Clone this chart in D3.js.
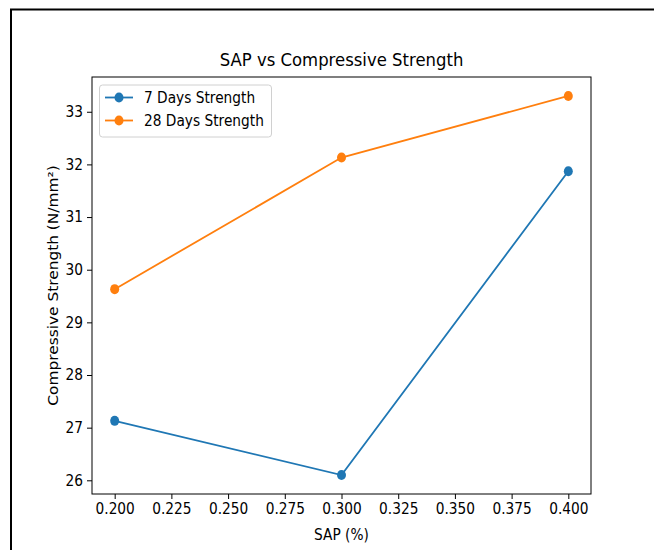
<!DOCTYPE html>
<html>
<head>
<meta charset="utf-8">
<script src="https://cdn.jsdelivr.net/npm/d3@7"></script>
<style>
  html, body { margin: 0; padding: 0; background: #fff; }
  svg { display: block; font-family: "DejaVu Sans", sans-serif; }
</style>
</head>
<body>
<svg id="chart" width="654" height="550"></svg>
<script>
const sap = [0.2, 0.3, 0.4];
const strength7 = [27.13, 26.1, 31.87];
const strength28 = [29.63, 32.13, 33.3];
const seriesNames = ["7 Days Strength", "28 Days Strength"];
const xTicks = [0.2, 0.225, 0.25, 0.275, 0.3, 0.325, 0.35, 0.375, 0.4];
const yTicks = [26, 27, 28, 29, 30, 31, 32, 33];

const colors = ["#1f77b4", "#ff7f0e"];
const svg = d3.select("#chart");
const L = 92, R = 591, T = 77, B = 494;
const SY = 1.12; // vertical stretch of the reference image

// outer frame
svg.append("rect").attr("x", 11).attr("y", 9.5).attr("width", 700).attr("height", 600)
  .attr("fill", "none").attr("stroke", "#000").attr("stroke-width", 2);

const x = d3.scaleLinear().domain([0.19, 0.41]).range([L, R]);
const y = d3.scaleLinear().domain([25.74, 33.66]).range([B, T]);

const fs = 13.75;

// axes
const xAxis = svg.append("g").attr("transform", `translate(0,${B})`)
  .call(d3.axisBottom(x).tickValues(xTicks).tickFormat(d3.format(".3f")).tickSizeOuter(0).tickSize(5).tickPadding(4));
const yAxis = svg.append("g").attr("transform", `translate(${L},0)`)
  .call(d3.axisLeft(y).tickValues(yTicks).tickFormat(d3.format("d")).tickSizeOuter(0).tickSize(5).tickPadding(4));
[xAxis, yAxis].forEach(g => {
  g.select(".domain").remove();
  g.selectAll("text").attr("font-size", fs).attr("fill", "#000").attr("font-family", "DejaVu Sans");
  g.selectAll("line").attr("stroke", "#000").attr("stroke-width", 1);
});
xAxis.selectAll("text").attr("y", 0).attr("transform", `translate(0,9) scale(1,${SY})`);
yAxis.selectAll("text").attr("x", 0).attr("transform", `translate(-9,0) scale(1,${SY})`);

// lines
const series = [strength7, strength28];
const line = d3.line().x((d, i) => x(sap[i])).y(d => y(d));
series.forEach((vals, si) => {
  svg.append("path").datum(vals).attr("d", line)
    .attr("fill", "none").attr("stroke", colors[si]).attr("stroke-width", 1.8);
  svg.append("g").selectAll("ellipse").data(vals).join("ellipse")
    .attr("cx", (d, i) => x(sap[i])).attr("cy", d => y(d)).attr("rx", 4.5).attr("ry", 4.5 * SY)
    .attr("fill", colors[si]);
});

// spines
svg.append("rect").attr("x", L).attr("y", T).attr("width", R - L).attr("height", B - T)
  .attr("fill", "none").attr("stroke", "#000").attr("stroke-width", 1);

// title
svg.append("text").attr("transform", `translate(${(L + R) / 2},66) scale(1,${SY})`).attr("text-anchor", "middle")
  .attr("font-size", 16.5).text("SAP vs Compressive Strength");
// x label
svg.append("text").attr("transform", `translate(${(L + R) / 2},540) scale(1,${SY})`).attr("text-anchor", "middle")
  .attr("font-size", fs).text("SAP (%)");
// y label
svg.append("text").attr("transform", `translate(58,${(T + B) / 2}) rotate(-90) scale(${SY},1)`)
  .attr("text-anchor", "middle").attr("font-size", fs).text("Compressive Strength (N/mm²)");

// legend
const lg = svg.append("g");
lg.append("rect").attr("x", 99.5).attr("y", 85).attr("width", 172).attr("height", 52)
  .attr("rx", 3).attr("fill", "#fff").attr("fill-opacity", 0.8).attr("stroke", "#d0d0d0");
seriesNames.forEach((name, i) => {
  const cy = 97.5 + i * 23;
  lg.append("line").attr("x1", 105).attr("x2", 133).attr("y1", cy).attr("y2", cy)
    .attr("stroke", colors[i]).attr("stroke-width", 1.8);
  lg.append("ellipse").attr("cx", 119).attr("cy", cy).attr("rx", 4.5).attr("ry", 4.5 * SY).attr("fill", colors[i]);
  lg.append("text").attr("transform", `translate(144,${cy + 5}) scale(1,${SY})`).attr("font-size", fs).text(name);
});
</script>
</body>
</html>
